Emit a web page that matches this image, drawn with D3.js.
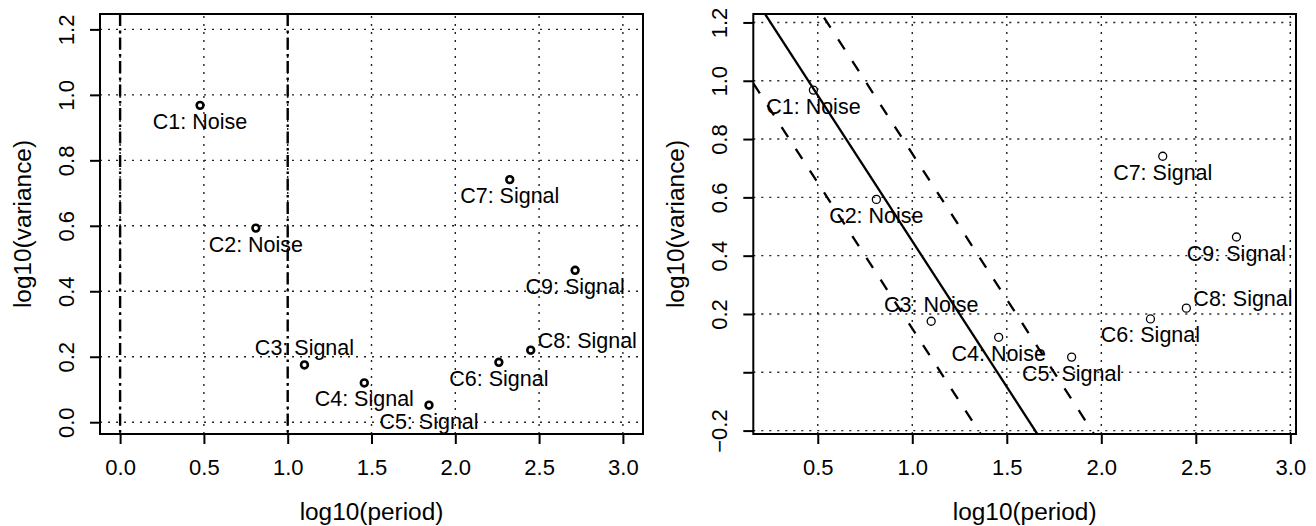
<!DOCTYPE html>
<html>
<head>
<meta charset="utf-8">
<script src="https://cdn.jsdelivr.net/npm/d3@7"></script>
<style>
  html, body { margin: 0; padding: 0; background: #fff; }
  svg { display: block; }
  text { font-family: "Liberation Sans", Arial, Helvetica, sans-serif; fill: #000; }
</style>
</head>
<body>
<svg id="chart" width="1316" height="526"></svg>
<script>
// Component summary: log10 period against log10 variance
const components = ["C1", "C2", "C3", "C4", "C5", "C6", "C7", "C8", "C9"];
const logPeriod = [0.477, 0.81, 1.10, 1.457, 1.843, 2.26, 2.325, 2.45, 2.715];
const logVariance = [0.968, 0.593, 0.175, 0.12, 0.052, 0.183, 0.741, 0.22, 0.464];

// classification shown in each panel
const classPeriodRule = ["Noise", "Noise", "Signal", "Signal", "Signal", "Signal", "Signal", "Signal", "Signal"];
const classLineRule = ["Noise", "Noise", "Noise", "Noise", "Signal", "Signal", "Signal", "Signal", "Signal"];

// label side per point: 1 = below, 3 = above, 4 = right
const labelSide = [1, 1, 3, 1, 1, 1, 1, 4, 1];

// left panel: period cut-offs
const periodCuts = [0, 1];
// right panel: lines of slope -1 (intercepts)
const lineIntercepts = [1.15, 1.45, 1.75];
const lineStyles = ["dashed", "solid", "dashed"];

// tick values and labels
const xTicks = [0, 0.5, 1.0, 1.5, 2.0, 2.5, 3.0];
const xTicksRight = [0.5, 1.0, 1.5, 2.0, 2.5, 3.0];
const yTicksLeft = [0, 0.2, 0.4, 0.6, 0.8, 1.0, 1.2];
const yTickLabelsLeft = ["0.0", "0.2", "0.4", "0.6", "0.8", "1.0", "1.2"];
const yTicksRight = [-0.2, 0, 0.2, 0.4, 0.6, 0.8, 1.0, 1.2];
const yTickLabelsRight = ["\u22120.2", "", "0.2", "0.4", "0.6", "0.8", "1.0", "1.2"];

const xTitle = "log10(period)";
const yTitle = "log10(variance)";

const svg = d3.select("#chart");

function panel(opts) {
  const { x, y, xt, yt, ytl, labels, pointR, pointW, id } = opts;
  const g = svg.append("g");
  const [x0, x1] = x.range();
  const [y0, y1] = y.range(); // y0 bottom, y1 top

  g.append("clipPath").attr("id", id).append("rect")
    .attr("x", x0).attr("y", y1).attr("width", x1 - x0).attr("height", y0 - y1);

  // dotted grid
  const grid = g.append("g").attr("stroke", "#222").attr("stroke-width", 1.4)
    .attr("stroke-dasharray", "2 6").attr("fill", "none");
  grid.selectAll("line.v").data(xt).join("line")
    .attr("x1", d => x(d)).attr("x2", d => x(d)).attr("y1", y0).attr("y2", y1);
  grid.selectAll("line.h").data(yt).join("line")
    .attr("y1", d => y(d)).attr("y2", d => y(d)).attr("x1", x0).attr("x2", x1);

  // x axis
  const xa = g.append("g").attr("transform", `translate(0,${y0})`)
    .call(d3.axisBottom(x).tickValues(xt).tickSize(10).tickSizeOuter(0).tickFormat(d3.format(".1f")));
  xa.select(".domain").remove();
  xa.selectAll(".tick line").attr("stroke-width", 2);
  xa.selectAll(".tick text").attr("y", 41).attr("dy", null)
    .style("font-size", "22px").attr("font-family", null);

  // y axis
  const ya = g.append("g").attr("transform", `translate(${x0},0)`)
    .call(d3.axisLeft(y).tickValues(yt).tickSize(10).tickSizeOuter(0).tickFormat((d, i) => ytl[i]));
  ya.select(".domain").remove();
  ya.selectAll(".tick line").attr("stroke-width", 2);
  ya.selectAll(".tick text").attr("transform", "rotate(-90)")
    .attr("x", 0).attr("y", -26).attr("dy", null).attr("text-anchor", "middle")
    .style("font-size", "22px").attr("font-family", null);

  // axis titles
  g.append("text").attr("x", (x0 + x1) / 2).attr("y", 520).attr("text-anchor", "middle")
    .style("font-size", "24.4px").text(xTitle);
  g.append("text").attr("transform", `translate(${x0 - 69.5},${(y0 + y1) / 2}) rotate(-90)`)
    .attr("text-anchor", "middle").style("font-size", "24.4px").text(yTitle);

  const inner = g.append("g").attr("clip-path", `url(#${id})`);

  // points
  g.append("g").selectAll("circle").data(components).join("circle")
    .attr("cx", (d, i) => x(logPeriod[i])).attr("cy", (d, i) => y(logVariance[i]))
    .attr("r", pointR).attr("fill", "none").attr("stroke", "#000").attr("stroke-width", pointW);

  // point labels
  g.append("g").selectAll("text").data(components).join("text")
    .attr("x", (d, i) => x(logPeriod[i]) + (labelSide[i] === 4 ? 7 : 0))
    .attr("y", (d, i) => y(logVariance[i]) + (labelSide[i] === 1 ? 23.5 : labelSide[i] === 3 ? -9.5 : -2.5))
    .attr("text-anchor", (d, i) => labelSide[i] === 4 ? "start" : "middle")
    .style("font-size", "21.5px")
    .text((d, i) => `${d}: ${labels[i]}`);

  // frame
  g.append("rect").attr("x", x0).attr("y", y1).attr("width", x1 - x0).attr("height", y0 - y1)
    .attr("fill", "none").attr("stroke", "#000").attr("stroke-width", 2);

  return inner;
}

// left panel
const xL = d3.scaleLinear().domain([-0.12, 3.12]).range([100, 643]);
const yL = d3.scaleLinear().domain([-0.036, 1.247]).range([434, 14]);
const innerL = panel({ x: xL, y: yL, xt: xTicks, yt: yTicksLeft, ytl: yTickLabelsLeft,
  labels: classPeriodRule, pointR: 3.4, pointW: 2.6, id: "clipL" });
innerL.selectAll("line.cut").data(periodCuts).join("line")
  .attr("x1", d => xL(d)).attr("x2", d => xL(d)).attr("y1", yL.range()[1]).attr("y2", yL.range()[0])
  .attr("stroke", "#000").attr("stroke-width", 2.4).attr("stroke-dasharray", "12 4.5 2.5 4.5");

// right panel
const xR = d3.scaleLinear().domain([0.159, 3.03]).range([753.3, 1296]);
const yR = d3.scaleLinear().domain([-0.2117, 1.229]).range([434, 14]);
const innerR = panel({ x: xR, y: yR, xt: xTicksRight, yt: yTicksRight, ytl: yTickLabelsRight,
  labels: classLineRule, pointR: 4, pointW: 1.3, id: "clipR" });
const [xr0, xr1] = xR.domain();
innerR.selectAll("line.rule").data(lineIntercepts).join("line")
  .attr("x1", xR(xr0)).attr("y1", d => yR(d - xr0))
  .attr("x2", xR(xr1)).attr("y2", d => yR(d - xr1))
  .attr("stroke", "#000").attr("stroke-width", 2.3)
  .attr("stroke-dasharray", (d, i) => lineStyles[i] === "dashed" ? "12 14" : null);
</script>
</body>
</html>
